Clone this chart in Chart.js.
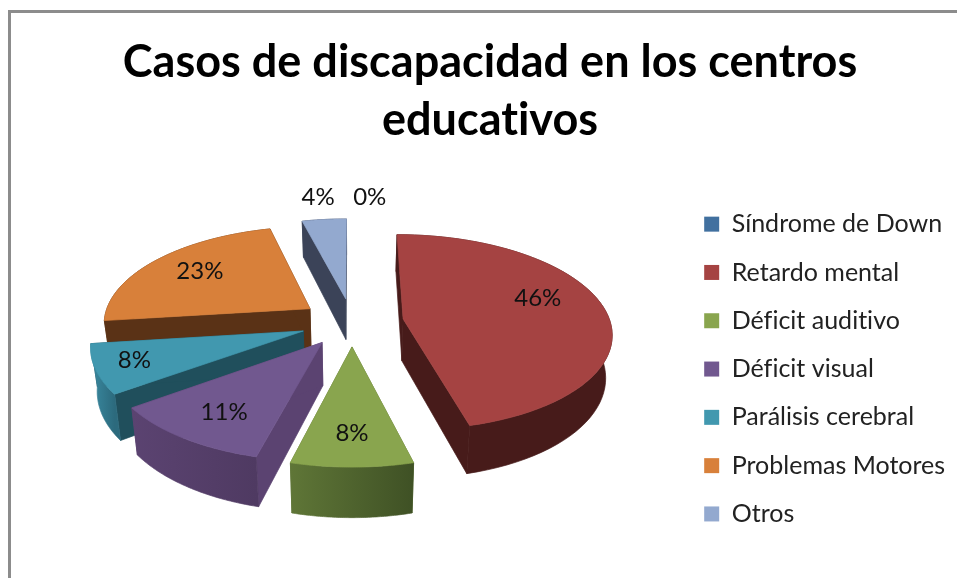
<!DOCTYPE html>
<html>
<head>
<meta charset="utf-8">
<title>Casos de discapacidad</title>
<script src="https://cdn.jsdelivr.net/npm/chart.js@4"></script>
<style>
  html, body { margin: 0; padding: 0; background: #fff; overflow: hidden; }
  #marco { position: absolute; left: 8px; top: 10px; width: 1200px; height: 900px; border: 3px solid #8c8c8c; }
  canvas { position: absolute; left: 0; top: 0; }
</style>
</head>
<body>
<div id="marco"></div>
<canvas id="grafico" width="957" height="578"></canvas>
<script>
const titulo = ['Casos de discapacidad en los centros', 'educativos'];
const categorias = ['Síndrome de Down', 'Retardo mental', 'Déficit auditivo', 'Déficit visual', 'Parálisis cerebral', 'Problemas Motores', 'Otros'];
const valores = [0, 46, 8, 11, 8, 23, 4];

const colores = ['#41709f', '#a54342', '#89a54e', '#71588f', '#4198af', '#d8803a', '#93a9cf'];
const coloresPlano = ['#26415c', '#471b1a', '#5a7034', '#5b4371', '#204f5c', '#5a3216', '#3b4358'];
const coloresCurvaIni = ['#26415c', '#471b1a', '#3f5125', '#4f3a62', '#2c6a7d', '#5a3216', '#3b4358'];
const coloresCurvaFin = ['#26415c', '#471b1a', '#5f7637', '#5b4371', '#3a8aa1', '#5a3216', '#3b4358'];

// posicion de cada etiqueta: radio relativo y desvio en grados sobre el angulo medio
const etiquetaRadio = [1.324, 0.715, 0.75, 0.745, 0.817, 0.72, 1.333];
const etiquetaDesvio = [4.5, -10.8, 0, -1, 1, 1.6, 0];

// proyeccion del pastel en falsa perspectiva
const centroX = 352, centroY = 322;
const radioX = 207, radioY = 96.5;
const explosion = 0.25, fuga = 0.135, grosor = 42, encogeBase = 0.975;

function proyectar(px, pv, abajo) {
  const s = 1 / (1 - fuga * pv);
  const k = abajo ? encogeBase : 1;
  return {
    x: centroX + radioX * px * s * k,
    y: centroY + radioY * pv * s + (abajo ? grosor * s : 0)
  };
}

function puntoPorcion(arco, angulo, r, abajo) {
  const medio = (arco.startAngle + arco.endAngle) / 2;
  const px = explosion * Math.cos(medio) + r * Math.cos(angulo);
  const pv = explosion * Math.sin(medio) + r * Math.sin(angulo);
  return proyectar(px, pv, abajo);
}

function rellenar(ctx, puntos, color) {
  ctx.beginPath();
  puntos.forEach((p, i) => i ? ctx.lineTo(p.x, p.y) : ctx.moveTo(p.x, p.y));
  ctx.closePath();
  ctx.fillStyle = color;
  ctx.fill();
  // tapa las costuras entre caras
  ctx.strokeStyle = color;
  ctx.lineWidth = 0.7;
  ctx.stroke();
}

function dibujarPorcion(ctx, arco, i) {
  const ini = arco.startAngle, fin = arco.endAngle;
  const pasos = 60;
  const borde = [], base = [];
  for (let n = 0; n <= pasos; n++) {
    const a = ini + (fin - ini) * n / pasos;
    borde.push(puntoPorcion(arco, a, 1, false));
    base.push(puntoPorcion(arco, a, 1, true));
  }
  const punta = puntoPorcion(arco, ini, 0, false);
  const puntaBase = puntoPorcion(arco, ini, 0, true);

  // caras planas
  rellenar(ctx, [punta, borde[0], base[0], puntaBase], coloresPlano[i]);
  rellenar(ctx, [punta, borde[pasos], base[pasos], puntaBase], coloresPlano[i]);

  // pared curva con degradado
  const xs = borde.map(p => p.x);
  const grad = ctx.createLinearGradient(Math.min(...xs), 0, Math.max(...xs), 0);
  grad.addColorStop(0, coloresCurvaFin[i]);
  grad.addColorStop(1, coloresCurvaIni[i]);
  rellenar(ctx, borde.concat(base.slice().reverse()), grad);

  // cara superior
  rellenar(ctx, [punta].concat(borde), colores[i]);
}

const pastel3d = {
  id: 'pastel3d',
  beforeDraw(chart) {
    // sin ligaduras en Lato (ti, fi)
    chart.ctx.letterSpacing = '0.01px';
  },
  beforeDatasetsDraw(chart) {
    const ctx = chart.ctx;
    const arcos = chart.getDatasetMeta(0).data;
    ctx.save();
    // de atras hacia adelante
    for (let i = arcos.length - 1; i >= 0; i--) {
      if (valores[i] > 0) dibujarPorcion(ctx, arcos[i], i);
    }
    ctx.font = '24px Lato';
    ctx.fillStyle = '#111';
    ctx.textAlign = 'center';
    ctx.textBaseline = 'middle';
    arcos.forEach((arco, i) => {
      const medio = (arco.startAngle + arco.endAngle) / 2;
      const a = medio + etiquetaDesvio[i] * Math.PI / 180;
      const p = puntoPorcion(arco, a, etiquetaRadio[i], false);
      ctx.fillText(valores[i] + '%', p.x, p.y);
    });
    ctx.restore();
    return false;
  }
};

new Chart(document.getElementById('grafico'), {
  type: 'pie',
  data: {
    labels: categorias,
    datasets: [{
      data: valores,
      backgroundColor: colores,
      borderWidth: 0
    }]
  },
  options: {
    responsive: false,
    animation: false,
    layout: { padding: { left: 25, right: 2, top: 28, bottom: 10 } },
    plugins: {
      tooltip: { enabled: false },
      title: {
        display: true,
        text: titulo,
        color: '#000',
        font: { family: 'Lato', size: 45, weight: 'bold', lineHeight: 1.29 },
        padding: { top: 5, bottom: 21 }
      },
      legend: {
        position: 'right',
        fullSize: false,
        labels: {
          color: '#222',
          font: { family: 'Lato', size: 25 },
          boxWidth: 15,
          boxHeight: 15,
          padding: 23.3
        }
      }
    }
  },
  plugins: [pastel3d]
});
</script>
</body>
</html>
